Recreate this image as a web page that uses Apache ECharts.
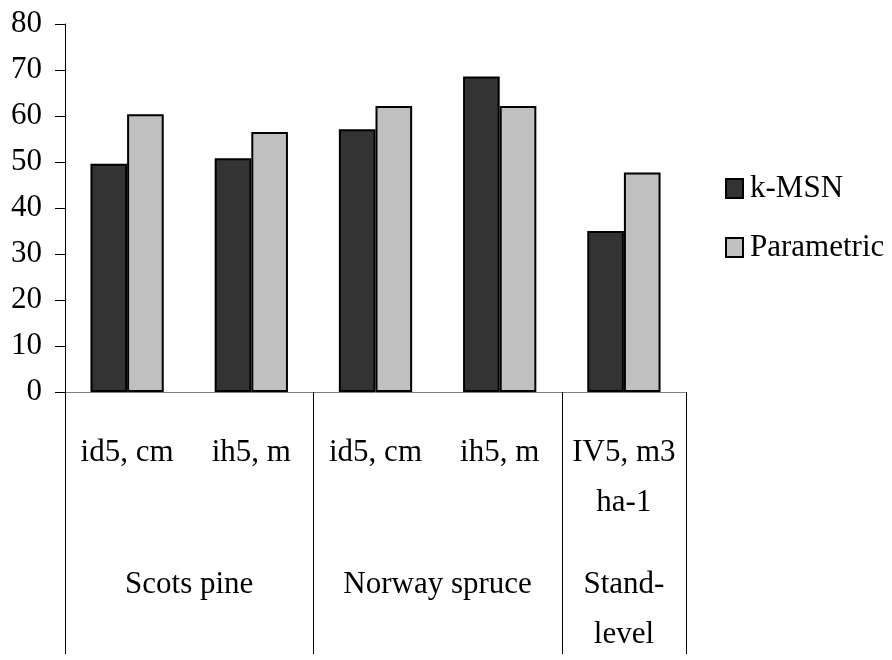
<!DOCTYPE html>
<html>
<head>
<meta charset="utf-8">
<script src="https://cdn.jsdelivr.net/npm/echarts@6/dist/echarts.min.js"></script>
<style>html,body{margin:0;padding:0;background:#fff}#c{width:892px;height:660px}</style>
</head>
<body>
<div id="c"></div>
<script>
var categories = ['id5, cm', 'ih5, m', 'id5, cm', 'ih5, m', 'IV5, m3\nha-1'];
var groupSlots = ['', '', 'Scots pine', '', '', '', 'Norway spruce', '', '', 'Stand-\nlevel', ''];
var kMSN = [49.6, 50.8, 57.1, 68.6, 35.0];
var parametric = [60.4, 56.5, 62.2, 62.2, 47.7];
var yTicks = [0, 80, 10];

var FONT = 'Liberation Serif';
var chart = echarts.init(document.getElementById('c'));
chart.setOption({
  animation: false,
  backgroundColor: '#fff',
  textStyle: { fontFamily: FONT },
  grid: { left: 65, right: 206, top: 24, bottom: 262, containLabel: false },
  legend: {
    orient: 'vertical', left: 720, top: 168,
    itemWidth: 17, itemHeight: 19, itemGap: 28,
    icon: 'rect',
    textStyle: { fontFamily: FONT, fontSize: 31, color: '#000', padding: [0, 0, 0, 2] },
    data: ['k-MSN', 'Parametric']
  },
  xAxis: [{
    type: 'category', data: categories, position: 'bottom',
    axisLine: { show: true, lineStyle: { color: '#808080', width: 1 } },
    axisTick: {
      show: true, length: 262, lineStyle: { color: '#000', width: 1 },
      interval: function (i) { return i === 0 || i === 2 || i === 4; }
    },
    axisLabel: { fontFamily: FONT, fontSize: 31, color: '#000', margin: 36, lineHeight: 50, interval: 0 }
  }, {
    type: 'category', data: groupSlots, position: 'bottom', boundaryGap: false,
    axisLine: { show: false }, axisTick: { show: false },
    axisLabel: { fontFamily: FONT, fontSize: 31, color: '#000', margin: 168, lineHeight: 50, interval: 0 }
  }],
  yAxis: {
    type: 'value', min: yTicks[0], max: yTicks[1], interval: yTicks[2],
    axisLine: { show: true, lineStyle: { color: '#000', width: 1 } },
    axisTick: { show: true, length: 10, lineStyle: { color: '#000', width: 1 } },
    axisLabel: { fontFamily: FONT, fontSize: 31, color: '#000', margin: 23 },
    splitLine: { show: false }
  },
  series: [{
    name: 'k-MSN', type: 'bar', data: kMSN, barGap: '0%', barCategoryGap: '41%',
    itemStyle: { color: '#333333', borderColor: '#000', borderWidth: 2 }
  }, {
    name: 'Parametric', type: 'bar', data: parametric, barGap: '0%', barCategoryGap: '41%',
    itemStyle: { color: '#c0c0c0', borderColor: '#000', borderWidth: 2 }
  }]
});
</script>
</body>
</html>
